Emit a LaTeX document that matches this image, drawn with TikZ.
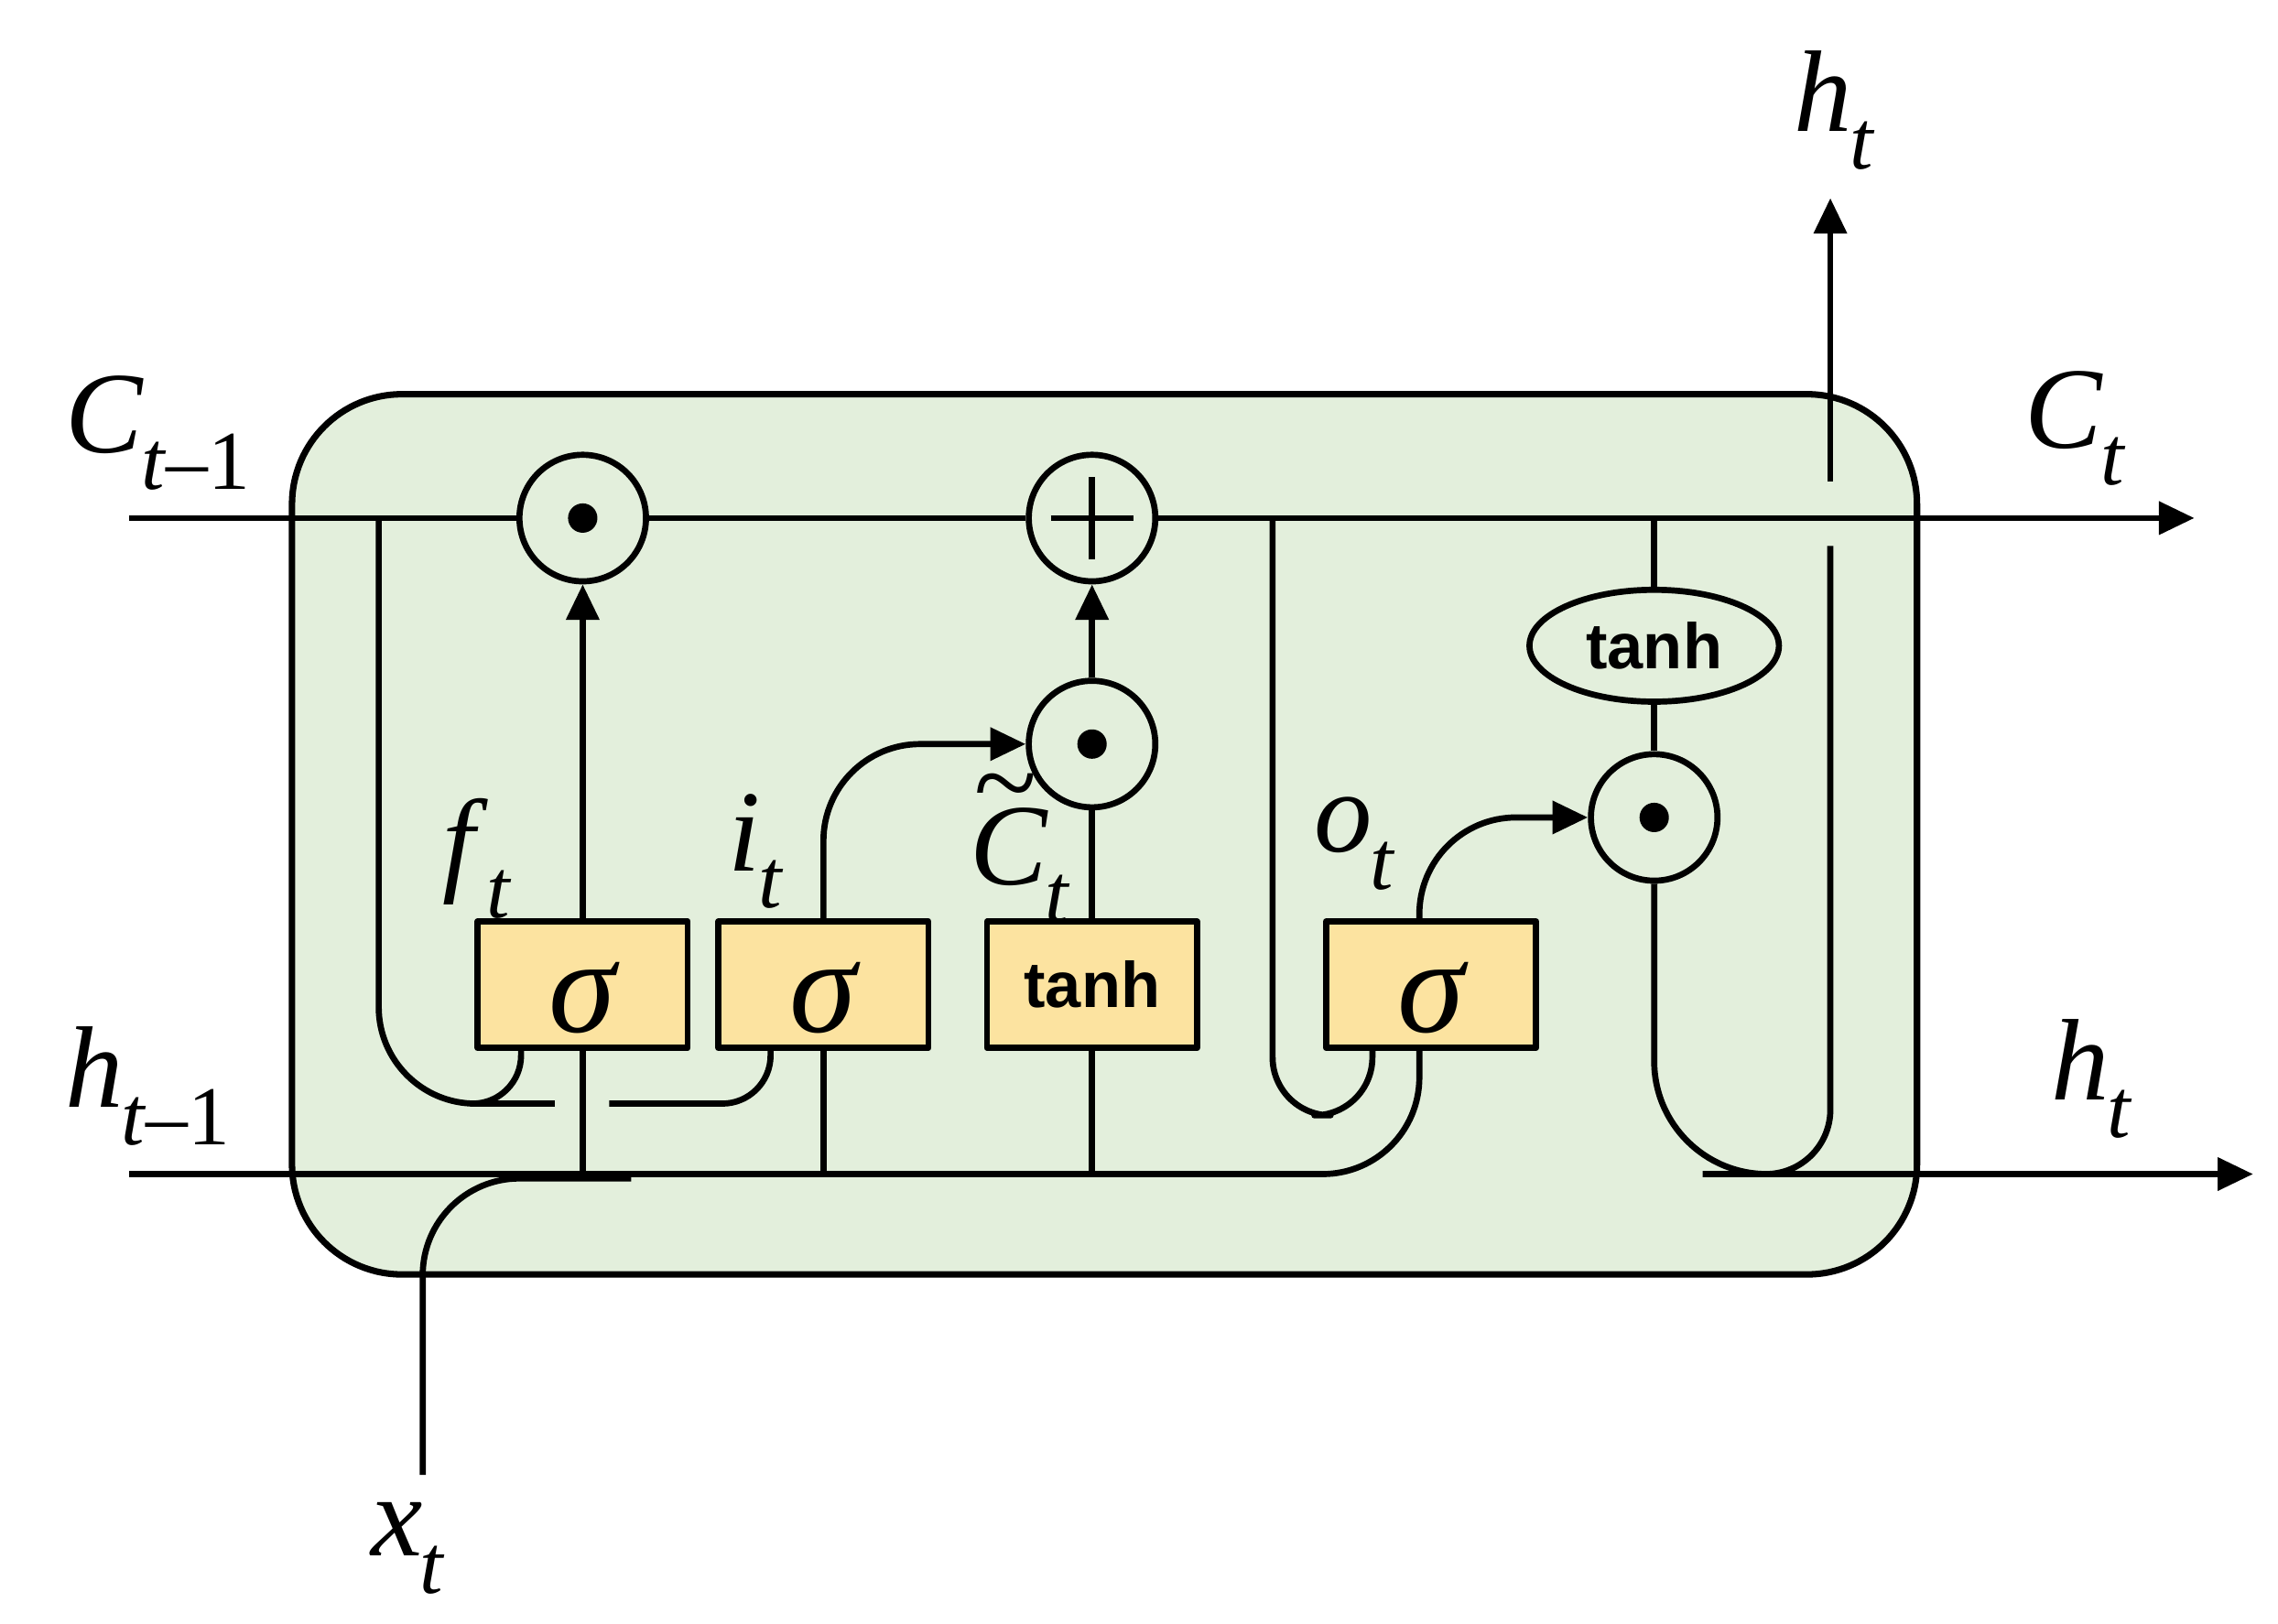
\documentclass[tikz,border=0pt]{standalone}
\usepackage{fontspec}
\setmainfont{Liberation Serif}
\newfontfamily\sansb{Liberation Sans}
\usetikzlibrary{arrows.meta,shapes.geometric}
\definecolor{cellgreen}{HTML}{E3EFDC}
\definecolor{gatefill}{HTML}{FCE3A0}
\newcommand\lab[2]{\textit{#1}\kern-0.02em\raisebox{-0.32em}{\fontsize{26}{26}\selectfont #2}}
\newcommand\tildeC{\textit{C}\llap{\raisebox{0.55em}{\~{}}\kern0.1em}}
\begin{document}
\begin{tikzpicture}[x=0.016cm,y=-0.016cm,line width=1.9pt,line join=round,
  arr/.style={-{Triangle[length=11pt,width=10pt]}},
  op/.style={circle,draw,fill=cellgreen,minimum size=1.38cm,inner sep=0pt},
  gate/.style={rectangle,draw,fill=gatefill,minimum width=2.29cm,minimum height=1.38cm,inner sep=0pt},
  lbl/.style={font=\fontsize{36}{38}\selectfont},
  sig/.style={font=\fontsize{42}{42}\selectfont\itshape},
  tnh/.style={font=\sansb\bfseries\fontsize{20}{22}\selectfont}]
\useasboundingbox (0,0) rectangle (1552,1106);
\node[draw,fill=cellgreen,rounded corners=1.2cm,minimum width=17.72cm,minimum height=9.6cm,line width=2pt] (cell) at (752.5,568.5) {};
% gates
\node[gate] (g1) at (397,671) {};
\node[sig] at ([yshift=-4pt]g1) {σ};
\node[gate] (g2) at (561,671) {};
\node[sig] at ([yshift=-4pt]g2) {σ};
\node[gate,tnh] (g3) at (744,671) {tanh};
\node[gate] (g4) at (975,671) {};
\node[sig] at ([yshift=-4pt]g4) {σ};
% ops
\node[op] (m1) at (397,353) {};
\node[op] (add) at (744,353) {};
\node[op] (m2) at (744,507) {};
\node[op] (m3) at (1127,557) {};
\node[ellipse,draw,fill=cellgreen,minimum width=2.72cm,minimum height=1.22cm,tnh] (th) at (1127,440) {tanh};
% cell state line
\coordinate (cin) at (88,353);
\coordinate (cout) at (1495,353);
\draw (cin) -- (m1.west);
\draw (m1.east) -- (add.west);
\draw[arr] (add.east) -- (cout);
% op symbols
\foreach \n in {m1,m2,m3} \fill (\n) circle (10);
\draw ([yshift=-0.45cm]add.center) -- ([yshift=0.45cm]add.center) ([xshift=-0.45cm]add.center) -- ([xshift=0.45cm]add.center);
% h line
\coordinate (hin) at (88,800);
\coordinate (hout) at (1535,800);
\draw (hin) -- (430,800);
\draw[rounded corners=30] (288,1005) -- (288,803) -- (430,803);
\draw[rounded corners=30] (400,800) -- (967,800) -- (967,714);
% inputs to gates
\draw (397,800) -- (g1.south);
\draw (561,800) -- (g2.south);
\draw (744,800) -- (g3.south);
% cell taps
\draw[rounded corners=30] (258,353) -- (258,752) -- (378,752);
\draw[rounded corners=15] (355,714) -- (355,752) -- (330,752);
\draw[rounded corners=15] (415,752) -- (525,752) -- (525,714);
\draw[rounded corners=18] (867,353) -- (867,760) -- (935,760) -- (935,714);
% gate outputs
\draw[arr] (g1.north) -- (m1.south);
\draw[arr,rounded corners=30] (561,628) -- (561,507) -- (m2.west);
\draw (g3.north) -- (m2.south);
\draw[arr] (m2.north) -- (add.south);
\draw[arr,rounded corners=30] (967,628) -- (967,557) -- (m3.west);
\draw (1127,353) -- (th.north);
\draw (th.south) -- (m3.north);
% output
\draw[arr,rounded corners=35] (m3.south) -- (1127,800) -- (hout);
\draw[rounded corners=20] (1160,800) -- (1247,800) -- (1247,372);
\coordinate (htop) at (1247,135);
\draw[arr] (1247,328) -- (htop);
% labels
\node[lbl,anchor=west] at (35,295) {\lab{C}{\textit{t}–1}};
\node[lbl,anchor=west] at (1370,292) {\lab{C}{\textit{t}}};
\node[lbl,anchor=west] at (35,740) {\lab{h}{\textit{t}–1}};
\node[lbl,anchor=west] at (1388,735) {\lab{h}{\textit{t}}};
\node[lbl] at (1250,75) {\lab{h}{\textit{t}}};
\node[lbl] at (278,1055) {\lab{x}{\textit{t}}};
\node[lbl] at (325,585) {\lab{f}{\textit{t}}};
\node[lbl] at (515,580) {\lab{i}{\textit{t}}};
\node[lbl] at (695,578) {\lab{\tildeC}{\textit{t}}};
\node[lbl] at (923,575) {\lab{o}{\textit{t}}};
\end{tikzpicture}
\end{document}
